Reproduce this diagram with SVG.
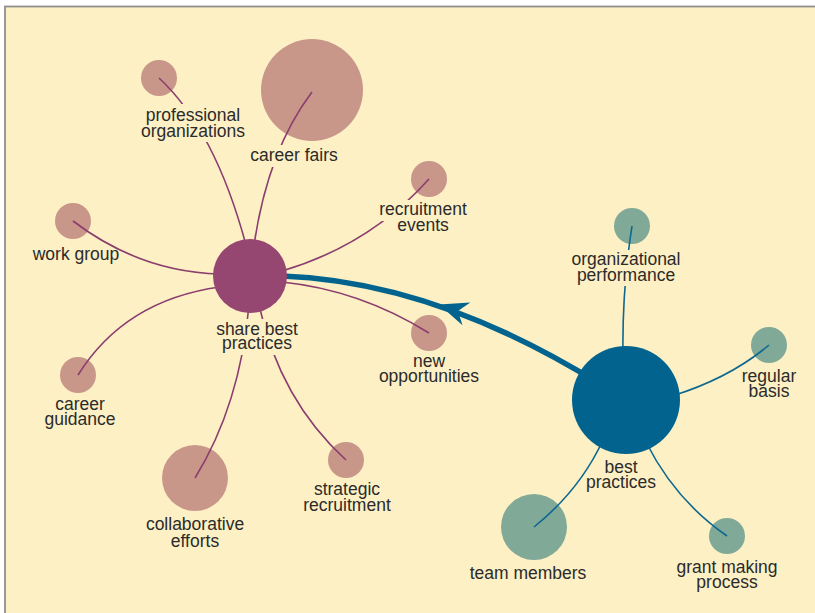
<svg xmlns="http://www.w3.org/2000/svg" width="815" height="613" viewBox="0 0 815 613">
<style>
.lbl{font-family:"Liberation Sans",Arial,Helvetica,sans-serif;font-size:17.5px;fill:#2b2b2b;text-anchor:middle}
.sp{fill:#c8978a}
.sg{fill:#80a998}
.cp{fill:none;stroke:#8b3d6e;stroke-width:1.6}
.cb{fill:none;stroke:#0d6790;stroke-width:1.6}
</style>
<defs>
<mask id="gaps" maskUnits="userSpaceOnUse" x="0" y="0" width="815" height="613">
<rect x="0" y="0" width="815" height="613" fill="#fff"/>
<rect x="138" y="104" width="112" height="38" fill="#000"/>
<rect x="247" y="145" width="94" height="22" fill="#000"/>
<rect x="376" y="200" width="94" height="21" fill="#000"/>
<rect x="398" y="218" width="52" height="18" fill="#000"/>
<rect x="569" y="250" width="115" height="36" fill="#000"/>
<rect x="212" y="319" width="90" height="36" fill="#000"/>
</mask>
</defs>
<rect x="0" y="0" width="815" height="613" fill="#ffffff"/>
<rect x="5" y="6.5" width="820" height="620" fill="#fdf0c4" stroke="#8f8f8f" stroke-width="1.8"/>

<g id="node-professional-organizations"><circle class="sp" cx="159" cy="78" r="18"/><text class="lbl" x="193" y="121">professional</text><text class="lbl" x="193" y="137">organizations</text></g>
<g id="node-career-fairs"><circle class="sp" cx="312" cy="90" r="51"/><text class="lbl" x="294" y="161">career fairs</text></g>
<g id="node-recruitment-events"><circle class="sp" cx="429" cy="179" r="18"/><text class="lbl" x="423" y="215">recruitment</text><text class="lbl" x="423" y="231">events</text></g>
<g id="node-work-group"><circle class="sp" cx="73" cy="221" r="18"/><text class="lbl" x="76" y="260">work group</text></g>
<g id="node-career-guidance"><circle class="sp" cx="78" cy="375" r="18"/><text class="lbl" x="80" y="410">career</text><text class="lbl" x="80" y="425">guidance</text></g>
<g id="node-collaborative-efforts"><circle class="sp" cx="195" cy="478" r="33"/><text class="lbl" x="195" y="530">collaborative</text><text class="lbl" x="195" y="547">efforts</text></g>
<g id="node-strategic-recruitment"><circle class="sp" cx="346" cy="460" r="18"/><text class="lbl" x="347" y="495">strategic</text><text class="lbl" x="347" y="511">recruitment</text></g>
<g id="node-new-opportunities"><circle class="sp" cx="429" cy="333" r="18"/><text class="lbl" x="429" y="367">new</text><text class="lbl" x="429" y="382">opportunities</text></g>
<g id="node-organizational-performance"><circle class="sg" cx="632" cy="226" r="18"/><text class="lbl" x="626" y="265">organizational</text><text class="lbl" x="626" y="281">performance</text></g>
<g id="node-regular-basis"><circle class="sg" cx="769" cy="345" r="18"/><text class="lbl" x="769" y="382">regular</text><text class="lbl" x="769" y="397">basis</text></g>
<g id="node-team-members"><circle class="sg" cx="534" cy="527" r="33"/><text class="lbl" x="528" y="579">team members</text></g>
<g id="node-grant-making-process"><circle class="sg" cx="727" cy="536" r="18"/><text class="lbl" x="727" y="573">grant making</text><text class="lbl" x="727" y="588">process</text></g>

<g id="connectors">
<g mask="url(#gaps)">
<path class="cp" d="M159,78 Q215,130 246,245"/>
<path class="cp" d="M312,92 Q268,150 254,245"/>
<path class="cp" d="M429,179 Q370,245 282,271"/>
<path class="cp" d="M73,221 Q140,272 220,274"/>
<path class="cp" d="M78,375 Q125,300 220,287"/>
<path class="cp" d="M195,478 Q240,405 249,305"/>
<path class="cp" d="M346,460 Q280,400 259,305"/>
<path class="cp" d="M429,333 Q360,290 282,282"/>
<path class="cb" d="M632,226 Q622,290 623,355"/>
<path class="cb" d="M769,345 Q730,378 672,396"/>
<path class="cb" d="M534,527 Q580,490 603,440"/>
<path class="cb" d="M727,536 Q675,500 646,442"/>
</g>
<path d="M600,384 Q435,281.5 282,276" fill="none" stroke="#02648e" stroke-width="5.5"/>
<path d="M0,0 L-29,-12 L-20,0 L-29,12 Z" fill="#02648e" transform="translate(439,304.5) rotate(199)"/>
</g>

<g id="node-share-best-practices"><circle cx="250" cy="276" r="37" fill="#954671"/><text class="lbl" x="257" y="335">share best</text><text class="lbl" x="257" y="349">practices</text></g>
<g id="node-best-practices"><circle cx="626" cy="400" r="54" fill="#02648e"/><text class="lbl" x="621" y="473">best</text><text class="lbl" x="621" y="488">practices</text></g>
</svg>
